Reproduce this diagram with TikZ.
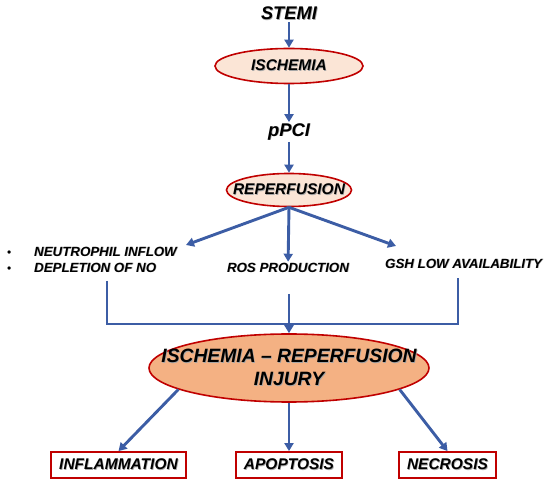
\documentclass[tikz,border=0pt]{standalone}
\usepackage{fontspec}
\setmainfont{Liberation Sans}
\usetikzlibrary{arrows.meta,shapes.geometric,calc}
\definecolor{arrblue}{HTML}{3C5DA5}
\definecolor{redb}{HTML}{C00000}
\definecolor{lpeach}{HTML}{FBE5D6}
\definecolor{dpeach}{HTML}{F4B183}
\newcommand{\sh}[1]{\leavevmode\rlap{\kern0.7pt\raisebox{-0.7pt}{\color{black!35}#1}}#1}
\newcommand{\fsa}{\fontsize{18.3}{21}\selectfont\bfseries\itshape}
\newcommand{\fsb}{\fontsize{15.5}{18}\selectfont\bfseries\itshape}
\newcommand{\fsc}{\fontsize{13.3}{16}\selectfont\bfseries\itshape}
\newcommand{\fsd}{\fontsize{19.3}{23}\selectfont\bfseries\itshape}
\begin{document}
\begin{tikzpicture}[x=1pt,y=-1pt,
  arr/.style={draw=arrblue, line width=2.9pt, -{Triangle[length=8pt,width=9pt]}},
  conn/.style={draw=arrblue, line width=2.9pt},
  txt/.style={inner sep=1pt, text=black},
  ell/.style={ellipse, draw=redb, line width=1.6pt, inner sep=0pt},
  box/.style={draw=redb, line width=1.8pt, fill=white, minimum height=26pt, inner xsep=8pt, inner ysep=0pt}]
\useasboundingbox (0,0) rectangle (550,481);
% top chain
\node[txt,font=\fsa] (stemi) at (289,14) {\sh{STEMI}};
\node[ell, fill=lpeach, minimum width=148pt, minimum height=35pt] (isch) at (289,66) {};
\node[txt,font=\fsb] at (isch) {\sh{ISCHEMIA}};
\node[txt,font=\fsa] (ppci) at (289,132) {\sh{pPCI}};
\node[ell, fill=lpeach, minimum width=125pt, minimum height=33pt] (rep) at (289,190) {};
\node[txt,font=\fsb] at (rep) {\sh{REPERFUSION}};
\draw[arr] (stemi) -- (isch);
\draw[arr] (isch) -- (ppci);
\draw[arr] (ppci) -- (rep);
% middle
\node[txt, font=\fsc, anchor=west, align=left] (neu) at (6,260)
  {\makebox[27pt][l]{\normalfont\large•}\sh{NEUTROPHIL INFLOW}\\
   \makebox[27pt][l]{\normalfont\large•}\sh{DEPLETION OF NO}};
\node[txt, font=\fsc] (ros) at (288,268) {\sh{ROS PRODUCTION}};
\node[txt, font=\fsc, anchor=west] (gsh) at (384,264) {\sh{GSH LOW AVAILABILITY}};
\coordinate (lt) at (186,245);
\coordinate (rt) at (396,246);
\draw[arr] (rep.south) -- (lt);
\draw[arr] (rep.south) -- (ros);
\draw[arr] (rep.south) -- (rt);
\coordinate (lb) at (107,281);
\coordinate (rb) at (458,278);
\coordinate (hm) at (289,324);
\coordinate (mt) at (289,294);
\draw[conn] (lb) |- (hm) -| (rb);
% big ellipse
\node[ell, fill=dpeach, minimum width=280pt, minimum height=68pt] (ire) at (289,368) {};
\node[txt, font=\fsd, align=center] at (ire) {\sh{ISCHEMIA – REPERFUSION}\\\sh{INJURY}};
\draw[arr] (mt) -- (ire);
% bottom
\node[box, font=\fsb] (infl) at (118.5,465) {\sh{INFLAMMATION}};
\node[box, font=\fsb] (apop) at (289,465) {\sh{APOPTOSIS}};
\node[box, font=\fsb] (necr) at (447.5,465) {\sh{NECROSIS}};
\draw[arr] (ire.191) -- (infl.north);
\draw[arr] (ire.south) -- (apop.north);
\draw[arr] (ire.349) -- (necr.north);
\end{tikzpicture}
\end{document}
